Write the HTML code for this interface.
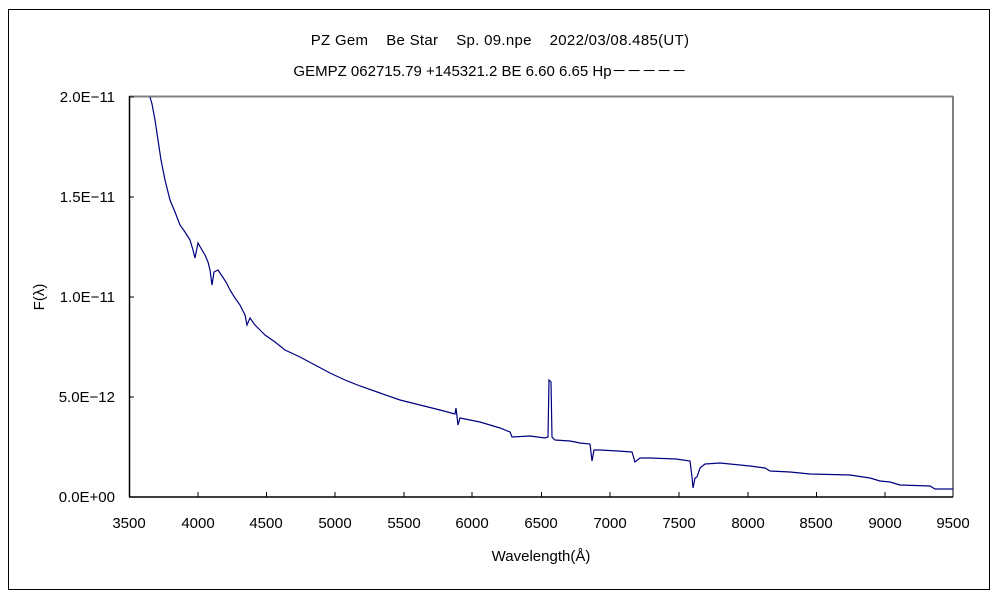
<!DOCTYPE html>
<html><head><meta charset="utf-8"><style>
body{margin:0;background:#fff;}
svg text{font-family:"Liberation Sans","Noto Sans CJK JP",sans-serif;font-size:15px;fill:#000;}
</style></head><body>
<svg width="1000" height="600" xmlns="http://www.w3.org/2000/svg">
<rect x="8.5" y="9.5" width="981" height="580" fill="#fff" stroke="#000" stroke-width="1"/>
<text x="500" y="45" text-anchor="middle" xml:space="preserve" style="letter-spacing:0.3px">PZ Gem    Be Star    Sp. 09.npe    2022/03/08.485(UT)</text>
<text x="490" y="76" text-anchor="middle">GEMPZ 062715.79 +145321.2 BE 6.60 6.65 Hp－－－－－</text>
<line x1="129" y1="96.5" x2="953" y2="96.5" stroke="#808080" stroke-width="2"/>
<line x1="953" y1="96" x2="953" y2="497" stroke="#808080" stroke-width="2"/>
<line x1="129.5" y1="96" x2="129.5" y2="497" stroke="#000" stroke-width="1.5"/>
<line x1="129" y1="497" x2="953" y2="497" stroke="#000" stroke-width="1.5"/>
<g stroke="#000" stroke-width="1">
<line x1="129" y1="97" x2="134" y2="97"/><line x1="129" y1="197" x2="134" y2="197"/><line x1="129" y1="297" x2="134" y2="297"/><line x1="129" y1="397" x2="134" y2="397"/>
<line x1="266.5" y1="497" x2="266.5" y2="492"/><line x1="404" y1="497" x2="404" y2="492"/><line x1="541.5" y1="497" x2="541.5" y2="492"/><line x1="679" y1="497" x2="679" y2="492"/><line x1="816.5" y1="497" x2="816.5" y2="492"/>
<line x1="198" y1="497" x2="198" y2="492"/><line x1="335" y1="497" x2="335" y2="492"/><line x1="472" y1="497" x2="472" y2="492"/><line x1="610" y1="497" x2="610" y2="492"/><line x1="748" y1="497" x2="748" y2="492"/><line x1="885" y1="497" x2="885" y2="492"/>
</g>
<g text-anchor="end">
<text x="115" y="102">2.0E−11</text><text x="115" y="202">1.5E−11</text><text x="115" y="302">1.0E−11</text><text x="115" y="402">5.0E−12</text><text x="115" y="502">0.0E+00</text>
</g>
<g text-anchor="middle">
<text x="129" y="528">3500</text><text x="198" y="528">4000</text><text x="266" y="528">4500</text><text x="335" y="528">5000</text><text x="404" y="528">5500</text><text x="472" y="528">6000</text><text x="541" y="528">6500</text><text x="610" y="528">7000</text><text x="679" y="528">7500</text><text x="748" y="528">8000</text><text x="816" y="528">8500</text><text x="885" y="528">9000</text><text x="953" y="528">9500</text>
<text x="541" y="561">Wavelength(Å)</text>
<text transform="translate(44,297) rotate(-90)">F(λ)</text>
</g>
<polyline fill="none" stroke="#000080" stroke-width="1.2" points="150,97 152,104 155,120 158,140 161,160 165,180 170,200 175,212 180,225 185,232 190,240 193,250 195,258 198,243 202,250 205,255 208,262 210,270 212,285 214,272 218,270 222,276 226,282 230,290 235,298 240,305 245,315 247,325 250,318 255,325 260,330 265,335 275,342 285,350 300,357 315,365 330,373 345,380 360,386 380,393 400,400 420,405 440,410 455,414 456,408 458,425 460,418 480,422 500,428 510,432 512,437 530,436 545,438 548,437 549,380 551,382 552,437 555,440 570,441 580,443 590,444 592,461 594,450 600,450 618,451 632,452 635,462 640,458 650,458 676,459 690,461 692,477 693,488 695,478 697,477 700,468 705,464 720,463 750,466 765,468 770,471 790,472 810,474 850,475 870,478 880,481 890,482 900,485 930,486 935,489 953,489"/>
</svg>
</body></html>
